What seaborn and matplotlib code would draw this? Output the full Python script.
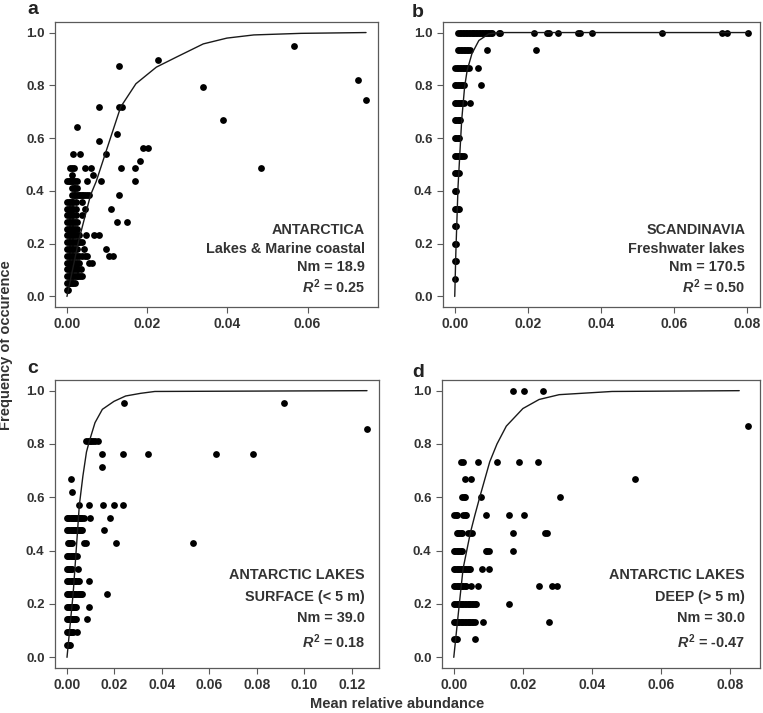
import numpy as np
import pandas as pd
import matplotlib
matplotlib.use("Agg")
import matplotlib.pyplot as plt
import seaborn as sns

# ---------------- data ----------------
a_freq = [0.026, 0.051, 0.077, 0.103, 0.128, 0.154, 0.179, 0.205, 0.231, 0.256, 0.282,
          0.308, 0.333, 0.359, 0.385, 0.410, 0.436, 0.462, 0.487, 0.513, 0.538, 0.564,
          0.590, 0.615, 0.641, 0.667, 0.718, 0.744, 0.795, 0.821, 0.872, 0.897, 0.949]
a_abund = [
    [0.0000, 0.0003],
    [0.0000, 0.0004, 0.0008, 0.0012, 0.0016, 0.0021],
    [0.0000, 0.0004, 0.0008, 0.0012, 0.0016, 0.0020, 0.0024, 0.0028, 0.0032, 0.0038],
    [0.0000, 0.0004, 0.0008, 0.0012, 0.0016, 0.0020, 0.0024, 0.0028, 0.0034],
    [0.0000, 0.0004, 0.0008, 0.0012, 0.0016, 0.0020, 0.0024, 0.0030, 0.0055, 0.0062],
    [0.0000, 0.0004, 0.0008, 0.0012, 0.0016, 0.0020, 0.0024, 0.0030, 0.0038, 0.0044, 0.0050, 0.0105, 0.0115],
    [0.0000, 0.0004, 0.0008, 0.0012, 0.0016, 0.0020, 0.0026, 0.0042, 0.0097],
    [0.0000, 0.0004, 0.0008, 0.0012, 0.0016, 0.0020, 0.0024, 0.0028, 0.0033, 0.0038],
    [0.0000, 0.0004, 0.0008, 0.0012, 0.0016, 0.0020, 0.0024, 0.0030, 0.0047, 0.0067, 0.0081],
    [0.0000, 0.0004, 0.0008, 0.0012, 0.0016, 0.0020, 0.0026],
    [0.0000, 0.0004, 0.0008, 0.0012, 0.0016, 0.0020, 0.0026, 0.0124, 0.0149],
    [0.0000, 0.0004, 0.0008, 0.0012, 0.0016, 0.0022, 0.0038],
    [0.0000, 0.0004, 0.0008, 0.0012, 0.0016, 0.0022, 0.0044, 0.0110],
    [0.0000, 0.0004, 0.0008, 0.0012, 0.0016, 0.0022, 0.0038],
    [0.0013, 0.0017, 0.0021, 0.0025, 0.0029, 0.0033, 0.0037, 0.0041, 0.0046, 0.0050, 0.0055, 0.0131],
    [0.0013, 0.0017, 0.0021, 0.0025],
    [0.0000, 0.0004, 0.0008, 0.0012, 0.0016, 0.0020, 0.0025, 0.0050, 0.0084, 0.0170],
    [0.0013, 0.0065],
    [0.0008, 0.0012, 0.0017, 0.0046, 0.0061, 0.0135, 0.0170, 0.0485],
    [0.0181],
    [0.0014, 0.0032, 0.0097],
    [0.0189, 0.0202],
    [0.0081],
    [0.0126],
    [0.0024],
    [0.0389],
    [0.0081, 0.0130, 0.0137],
    [0.0746],
    [0.0340],
    [0.0726],
    [0.0130],
    [0.0227],
    [0.0567],
]
a_curve_x = [0.0, 0.0010, 0.0020, 0.0029, 0.0059, 0.0073, 0.0095, 0.0134, 0.0172, 0.0223,
             0.0273, 0.0340, 0.0399, 0.0466, 0.0584, 0.0746]
a_curve_y = [0.0, 0.073, 0.145, 0.21, 0.385, 0.436, 0.538, 0.718, 0.806, 0.869,
             0.907, 0.957, 0.979, 0.991, 0.997, 1.0]

b_freq = [0.067, 0.133, 0.200, 0.267, 0.333, 0.400, 0.467, 0.533, 0.600, 0.667,
          0.733, 0.800, 0.867, 0.933, 1.000]
b_abund = [
    [0.0000],
    [0.0000, 0.0003],
    [0.0000, 0.0004],
    [0.0000, 0.0004],
    [0.0000, 0.0004, 0.0008, 0.0012],
    [0.0000, 0.0004],
    [0.0000, 0.0004, 0.0008, 0.0012],
    [0.0000, 0.0004, 0.0008, 0.0012, 0.0016, 0.0020, 0.0024],
    [0.0000, 0.0004, 0.0008, 0.0012],
    [0.0000, 0.0004, 0.0008, 0.0012, 0.0015],
    [0.0000, 0.0004, 0.0008, 0.0012, 0.0016, 0.0020, 0.0025, 0.0043],
    [0.0000, 0.0004, 0.0008, 0.0012, 0.0016, 0.0020, 0.0025, 0.0073],
    [0.0002, 0.0006, 0.0010, 0.0014, 0.0018, 0.0022, 0.0026, 0.0030, 0.0034, 0.0038, 0.0063],
    [0.0009, 0.0013, 0.0017, 0.0021, 0.0025, 0.0029, 0.0033, 0.0037, 0.0041, 0.0088, 0.0222],
    [0.0010, 0.0014, 0.0018, 0.0022, 0.0026, 0.0030, 0.0034, 0.0038, 0.0042, 0.0046,
     0.0050, 0.0054, 0.0058, 0.0062, 0.0066, 0.0070, 0.0074, 0.0078, 0.0082, 0.0086,
     0.0090, 0.0094, 0.0098, 0.0102, 0.0120, 0.0125, 0.0216, 0.0252, 0.0259, 0.0282,
     0.0337, 0.0343, 0.0375, 0.0568, 0.0730, 0.0744, 0.0803],
]
b_curve_x = [0.0, 0.0003, 0.0009, 0.0014, 0.0019, 0.0027, 0.0034, 0.0047, 0.0066, 0.0093, 0.0120, 0.0803]
b_curve_y = [0.0, 0.165, 0.416, 0.542, 0.668, 0.794, 0.857, 0.920, 0.970, 0.995, 1.0, 1.0]

c_freq = [0.048, 0.095, 0.143, 0.190, 0.238, 0.286, 0.333, 0.381, 0.429, 0.476,
          0.524, 0.571, 0.619, 0.667, 0.714, 0.762, 0.810, 0.857, 0.952]
c_abund = [
    [0.0000, 0.0004, 0.0008, 0.0011],
    [0.0000, 0.0004, 0.0008, 0.0012, 0.0016, 0.0020, 0.0025, 0.0041],
    [0.0000, 0.0004, 0.0008, 0.0012, 0.0016, 0.0020, 0.0024, 0.0028, 0.0032, 0.0037, 0.0084],
    [0.0000, 0.0004, 0.0008, 0.0012, 0.0016, 0.0020, 0.0024, 0.0028, 0.0032, 0.0037, 0.0093],
    [0.0000, 0.0005, 0.0010, 0.0015, 0.0020, 0.0025, 0.0030, 0.0035, 0.0040, 0.0045,
     0.0050, 0.0055, 0.0060, 0.0065, 0.0167],
    [0.0000, 0.0005, 0.0010, 0.0015, 0.0020, 0.0025, 0.0030, 0.0035, 0.0040, 0.0045, 0.0050, 0.0093],
    [0.0000, 0.0004, 0.0008, 0.0012, 0.0016, 0.0022, 0.0048],
    [0.0000, 0.0005, 0.0010, 0.0015, 0.0020, 0.0025, 0.0030, 0.0035, 0.0041],
    [0.0004, 0.0008, 0.0012, 0.0016, 0.0021, 0.0072, 0.0080, 0.0205, 0.0529],
    [0.0000, 0.0005, 0.0010, 0.0015, 0.0020, 0.0025, 0.0030, 0.0035, 0.0040, 0.0045,
     0.0050, 0.0055, 0.0060, 0.0065, 0.0157],
    [0.0000, 0.0005, 0.0010, 0.0015, 0.0020, 0.0025, 0.0030, 0.0035, 0.0040, 0.0045,
     0.0050, 0.0055, 0.0060, 0.0065, 0.0070, 0.0096, 0.0181],
    [0.0051, 0.0093, 0.0150, 0.0199, 0.0238],
    [0.0023],
    [0.0016],
    [0.0148],
    [0.0148, 0.0237, 0.0343, 0.0629, 0.0784],
    [0.0079, 0.0087, 0.0095, 0.0103, 0.0111, 0.0119, 0.0129],
    [0.1264],
    [0.0240, 0.0914],
]
c_curve_x = [0.0, 0.0026, 0.0041, 0.0052, 0.0067, 0.0082, 0.0094, 0.0118, 0.0149, 0.0198,
             0.0247, 0.0310, 0.0370, 0.1264]
c_curve_y = [0.0, 0.24, 0.43, 0.571, 0.68, 0.77, 0.81, 0.88, 0.93, 0.96, 0.98, 0.99, 0.997, 1.0]

d_freq = [0.067, 0.133, 0.200, 0.267, 0.333, 0.400, 0.467, 0.533, 0.600, 0.667, 0.733, 0.867, 1.000]
d_abund = [
    [0.0000, 0.0005, 0.0010, 0.0060],
    [0.0000, 0.0004, 0.0008, 0.0012, 0.0016, 0.0020, 0.0024, 0.0028, 0.0032, 0.0036,
     0.0040, 0.0044, 0.0048, 0.0052, 0.0056, 0.0060, 0.0086, 0.0276],
    [0.0000, 0.0004, 0.0008, 0.0012, 0.0016, 0.0020, 0.0024, 0.0028, 0.0032, 0.0036,
     0.0040, 0.0044, 0.0048, 0.0052, 0.0056, 0.0060, 0.0064, 0.0161],
    [0.0000, 0.0004, 0.0008, 0.0012, 0.0016, 0.0020, 0.0024, 0.0028, 0.0032, 0.0036,
     0.0051, 0.0070, 0.0247, 0.0283, 0.0300],
    [0.0000, 0.0004, 0.0008, 0.0012, 0.0016, 0.0020, 0.0024, 0.0028, 0.0032, 0.0036,
     0.0040, 0.0044, 0.0047, 0.0083, 0.0102],
    [0.0000, 0.0004, 0.0008, 0.0012, 0.0016, 0.0020, 0.0025, 0.0092, 0.0097, 0.0102, 0.0171],
    [0.0008, 0.0012, 0.0016, 0.0020, 0.0024, 0.0042, 0.0046, 0.0052, 0.0171, 0.0264, 0.0270],
    [0.0002, 0.0006, 0.0010, 0.0028, 0.0032, 0.0036, 0.0092, 0.0161, 0.0202],
    [0.0025, 0.0029, 0.0033, 0.0080, 0.0307],
    [0.0032, 0.0051, 0.0524],
    [0.0022, 0.0027, 0.0070, 0.0125, 0.0188, 0.0243],
    [0.0852],
    [0.0171, 0.0202, 0.0257],
]
d_curve_x = [0.0, 0.0008, 0.0016, 0.0027, 0.0048, 0.0061, 0.0075, 0.0104, 0.0125, 0.0152,
             0.0200, 0.0247, 0.0305, 0.0458, 0.0826]
d_curve_y = [0.0, 0.1, 0.2, 0.333, 0.467, 0.533, 0.6, 0.733, 0.8, 0.867,
             0.933, 0.967, 0.985, 0.997, 1.0]

panel_letters = ["a", "b", "c", "d"]
panel_labels = [
    ["ANTARCTICA", "Lakes & Marine coastal", "Nm = 18.9", r"$R^{2}$ = 0.25"],
    ["SCANDINAVIA", "Freshwater lakes", "Nm = 170.5", r"$R^{2}$ = 0.50"],
    ["ANTARCTIC LAKES", "SURFACE (< 5 m)", "Nm = 39.0", r"$R^{2}$ = 0.18"],
    ["ANTARCTIC LAKES", "DEEP (> 5 m)", "Nm = 30.0", r"$R^{2}$ = -0.47"],
]
x_ticks = [
    [0.0, 0.02, 0.04, 0.06],
    [0.0, 0.02, 0.04, 0.06, 0.08],
    [0.0, 0.02, 0.04, 0.06, 0.08, 0.10, 0.12],
    [0.0, 0.02, 0.04, 0.06, 0.08],
]
y_ticks = [0.0, 0.2, 0.4, 0.6, 0.8, 1.0]
x_label = "Mean relative abundance"
y_label = "Frequency of occurence"

# ---------------- style ----------------
sns.set_style("ticks")
plt.rcParams["font.family"] = ["Liberation Sans", "DejaVu Sans"]
plt.rcParams["font.weight"] = "bold"
plt.rcParams["mathtext.fontset"] = "custom"
plt.rcParams["mathtext.rm"] = "Liberation Sans:bold"
plt.rcParams["mathtext.it"] = "Liberation Sans:italic:bold"
plt.rcParams["mathtext.bf"] = "Liberation Sans:bold"

TXT = "#333333"
EDGE = "#5a5a5a"

fig = plt.figure(figsize=(7.63, 7.13), dpi=100)
W, H = 763, 713


def box(l, t, r, b):
    return [l / W, 1 - b / H, (r - l) / W, (b - t) / H]


positions = [box(55, 22, 378, 307), box(443, 22, 760, 307),
             box(55, 380, 379, 668), box(442, 380, 760, 668)]

panels = [
    (a_freq, a_abund, a_curve_x, a_curve_y),
    (b_freq, b_abund, b_curve_x, b_curve_y),
    (c_freq, c_abund, c_curve_x, c_curve_y),
    (d_freq, d_abund, d_curve_x, d_curve_y),
]

text_right = [0.960, 0.953, 0.957, 0.953]
text_ys = [
    [0.269, 0.202, 0.139, 0.070],
    [0.269, 0.202, 0.139, 0.070],
    [0.323, 0.248, 0.174, 0.091],
    [0.323, 0.248, 0.174, 0.091],
]
letter_pos = [(27, 14), (412, 17), (27, 373), (412, 377)]

for i, (freq, abund, cx, cy) in enumerate(panels):
    ax = fig.add_axes(positions[i])
    xs, ys = [], []
    for f, row in zip(freq, abund):
        for v in row:
            xs.append(v)
            ys.append(f)
    df = pd.DataFrame({"abund": xs, "freq": ys})
    sns.scatterplot(data=df, x="abund", y="freq", ax=ax, color="black",
                    s=24, linewidth=0, zorder=3)
    cdf = pd.DataFrame({"abund": cx, "freq": cy})
    sns.lineplot(data=cdf, x="abund", y="freq", ax=ax, color="#1a1a1a",
                 lw=1.0, sort=False, estimator=None, zorder=4)
    xmax = max(xs)
    ax.set_xlim(-0.04 * xmax, 1.04 * xmax)
    ax.set_ylim(-0.04, 1.04)
    ax.set_xticks(x_ticks[i])
    ax.set_xticklabels([f"{t:.2f}" for t in x_ticks[i]])
    ax.set_yticks(y_ticks)
    ax.set_yticklabels([f"{t:.1f}" for t in y_ticks])
    ax.set_xlabel("")
    ax.set_ylabel("")
    for sp in ax.spines.values():
        sp.set_visible(True)
        sp.set_color(EDGE)
        sp.set_linewidth(0.9)
    ax.tick_params(axis="both", direction="out", length=4, width=0.8,
                   color=EDGE, labelcolor=TXT, pad=3.5)
    ax.tick_params(axis="x", labelsize=10)
    ax.tick_params(axis="y", labelsize=9.5)
    for lab in ax.get_xticklabels() + ax.get_yticklabels():
        lab.set_fontweight("bold")
    for txt, yy in zip(panel_labels[i], text_ys[i]):
        ax.text(text_right[i], yy, txt, transform=ax.transAxes, ha="right",
                va="center", fontsize=10.4, fontweight="bold", color=TXT)
    lx, ly = letter_pos[i]
    fig.text(lx / W, 1 - ly / H, panel_letters[i], fontsize=14,
             fontweight="bold", color="#222222", ha="left", va="baseline")

fig.text(6.5 / W, 1 - 345 / H, y_label, rotation=90, ha="center", va="center",
         fontsize=10.5, fontweight="bold", color=TXT)
fig.text(397 / W, 1 - 704 / H, x_label, ha="center", va="center",
         fontsize=10.5, fontweight="bold", color=TXT)

fig.savefig("out.png", dpi=100, facecolor="white")
